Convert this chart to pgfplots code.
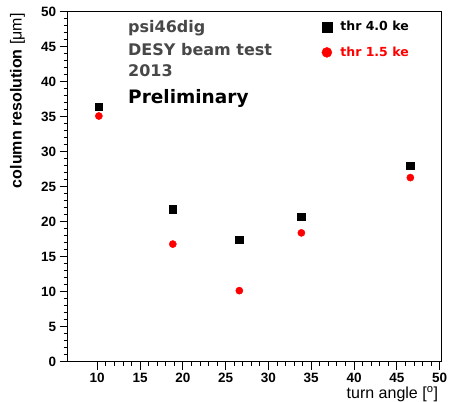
\documentclass[border=0pt]{standalone}
\usepackage{pgfplots}
\pgfplotsset{compat=1.18}
\usepackage{fontspec}
\setmainfont{Liberation Sans}
\newfontfamily\dejavu{DejaVu Sans}
\definecolor{txtgray}{RGB}{72,72,72}
\begin{document}
\begin{tikzpicture}
\path[use as bounding box] (0,0) rectangle (451pt,402pt);
\begin{axis}[
 at={(67.7pt,40.3pt)}, anchor=south west,
 scale only axis, width=373.8pt, height=350pt,
 xmin=6.55, xmax=50.22, ymin=0, ymax=50,
 xtick={10,15,...,50}, ytick={0,5,...,50},
 minor x tick num=4, minor y tick num=4,
 tick align=outside, xtick pos=bottom, ytick pos=left,
 major tick length=8pt, minor tick length=4pt,
 every tick/.style={black, line width=0.8pt},
 axis line style={line width=1.3pt},
 tick label style={font=\fontsize{13.5}{16}\selectfont\bfseries},
 /pgf/number format/assume math mode=true,
 xlabel={turn angle [\textsuperscript{o}]},
 ylabel={\textbf{column resolution} [μm]},
 every axis x label/.style={at={(axis description cs:1,-0.105)}, anchor=base east, font=\fontsize{16}{19}\selectfont},
 every axis y label/.style={at={(axis description cs:-0.123,1.005)}, rotate=90, anchor=base east, font=\fontsize{16}{19}\selectfont},
 legend image code/.code={\draw[#1, mark size=5pt] plot coordinates {(0pt,0pt)};},
 legend style={at={(axis description cs:0.680,0.978)}, anchor=north west, draw=none, fill=none, inner sep=0pt, outer sep=0pt,
   font=\dejavu\bfseries\fontsize{12.5}{15}\selectfont, row sep=10.5pt, column sep=6.5pt},
 legend cell align=left,
]
\addplot[only marks, mark=square*, mark size=3.7pt, color=black] coordinates {
 (10.19,36.4) (18.83,21.8) (26.6,17.4) (33.85,20.7) (46.58,28.0)};
\addlegendentry{thr 4.0 ke}
\addplot[only marks, mark=*, mark size=3.6pt, color=red] coordinates {
 (10.19,35.1) (18.83,16.8) (26.6,10.15) (33.85,18.4) (46.58,26.3)};
\addlegendentry{\textcolor{red}{thr 1.5 ke}}
\node[anchor=base west, text=txtgray, font=\dejavu\bfseries\fontsize{16}{19}\selectfont, inner sep=0pt] at (rel axis cs:0.1613,0.94) {psi46dig};
\node[anchor=base west, text=txtgray, font=\dejavu\bfseries\fontsize{16}{19}\selectfont, inner sep=0pt] at (rel axis cs:0.1613,0.8754) {DESY beam test};
\node[anchor=base west, text=txtgray, font=\dejavu\bfseries\fontsize{16}{19}\selectfont, inner sep=0pt] at (rel axis cs:0.1613,0.8143) {2013};
\node[anchor=base west, text=black, font=\dejavu\bfseries\fontsize{18.5}{22}\selectfont, inner sep=0pt] at (rel axis cs:0.1613,0.7363) {Preliminary};
\end{axis}
\end{tikzpicture}
\end{document}
